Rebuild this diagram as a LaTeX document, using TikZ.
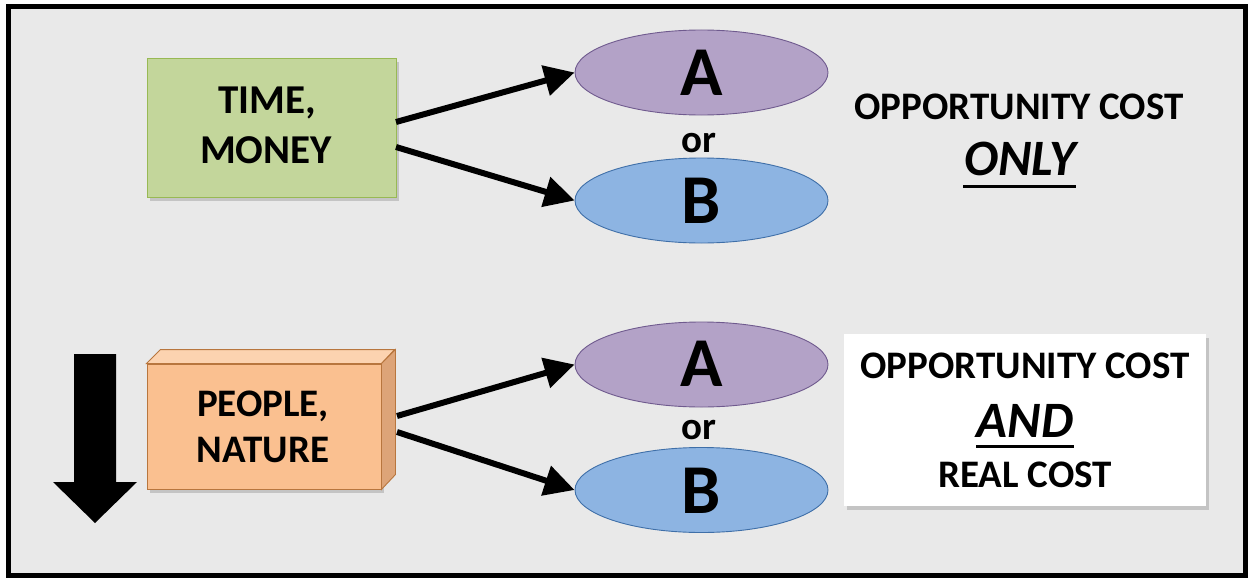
\documentclass[tikz,border=0pt]{standalone}
\usepackage{fontspec}
\setmainfont{Carlito}
\usetikzlibrary{shapes.geometric,arrows.meta,shadows}
\definecolor{bgc}{HTML}{E9E9E9}
\definecolor{grf}{HTML}{C3D69B}
\definecolor{grd}{HTML}{98B954}
\definecolor{puf}{HTML}{B3A2C7}
\definecolor{pud}{HTML}{6F5A8E}
\definecolor{blf}{HTML}{8DB4E2}
\definecolor{bld}{HTML}{3F6FA8}
\definecolor{orf}{HTML}{FAC090}
\definecolor{ort}{HTML}{FCD3B0}
\definecolor{ors}{HTML}{DDA478}
\definecolor{ord}{HTML}{B8763E}
\tikzset{
  x=1pt,y=-1pt,
  shad/.style={drop shadow={opacity=0.35,shadow xshift=3pt,shadow yshift=-4pt}},
  txt/.style={font=\fontsize{39}{44}\selectfont\bfseries,inner sep=0pt,anchor=base},
  txtb/.style={font=\fontsize{41}{46}\selectfont\bfseries,inner sep=0pt,anchor=base},
  big/.style={font=\fontsize{70}{74}\selectfont\bfseries,inner sep=0pt,anchor=base},
  emph/.style={font=\fontsize{51}{56}\selectfont\bfseries\itshape,inner sep=0pt,anchor=base},
  ell/.style={ellipse,minimum width=253pt,minimum height=85pt,inner sep=0pt,line width=0.9pt},
  conn/.style={line width=6pt,-{Triangle[length=30pt,width=30pt]}},
}
\begin{document}
\begin{tikzpicture}
\useasboundingbox (0,0) rectangle (1249,578);
\fill[white] (0,0) rectangle (1249,578);
\draw[line width=5pt,fill=bgc] (8.5,6.5) rectangle (1245,575.5);

% top row
\node[shad,draw=grd,fill=grf,line width=0.9pt,minimum width=249pt,minimum height=139pt,inner sep=0pt] (gm) at (271.5,127.5) {};
\node[txtb] (t1) at (267,113) {TIME,};
\node[txtb] (t2) at (266,163) {MONEY};

\node[ell,draw=pud,fill=puf] (a1) at (701.5,72.5) {};
\node[big] at (701.5,95) {A};
\node[ell,draw=bld,fill=blf] (b1) at (701.5,200.5) {};
\node[big] at (701.5,223) {B};
\node[txt] (or1) at (699,152) {or};

\coordinate (s1) at (396,122);
\coordinate (s2) at (396,147);
\draw[conn] (s1) -- (a1.west);
\draw[conn] (s2) -- (b1.west);

\node[txt] (oc1) at (1019,119) {OPPORTUNITY COST};
\node[emph] (only) at (1020,175) {ONLY};
\draw[line width=3pt] (963,186) -- (1076,186);

% bottom row
\fill[black] (74,354) -- (116,354) -- (116,482) -- (137,482) -- (95,523) -- (53,482) -- (74,482) -- cycle;

\node[shad,draw=ord,fill=orf,line width=0.9pt,minimum width=234pt,minimum height=125pt,inner sep=0pt] (pn) at (264,426.5) {};
\filldraw[draw=ord,fill=ort,line width=0.9pt] (pn.north west) -- ++(14,-14) -- ++(234,0) -- (pn.north east) -- cycle;
\filldraw[draw=ord,fill=ors,line width=0.9pt] (pn.north east) -- ++(14,-14) -- ++(0,125) -- (pn.south east) -- cycle;
\node[txt] (p1) at (263,416) {PEOPLE,};
\node[txt] (p2) at (263,462) {NATURE};

\node[ell,draw=pud,fill=puf] (a2) at (701.5,364.5) {};
\node[big] at (701.5,386) {A};
\node[ell,draw=bld,fill=blf] (b2) at (701.5,490) {};
\node[big] at (701.5,513) {B};
\node[txt] (or2) at (699,439) {or};

\coordinate (s3) at (397,416);
\coordinate (s4) at (397,432);
\draw[conn] (s3) -- (a2.west);
\draw[conn] (s4) -- (b2.west);

\node[shad,fill=white,minimum width=362pt,minimum height=172pt,inner sep=0pt] (wb) at (1025,420) {};
\node[txt] (oc2) at (1025,378) {OPPORTUNITY COST};
\node[emph] (and) at (1025,437) {AND};
\draw[line width=3pt] (976,446) -- (1074,446);
\node[txt] (rc) at (1025,487) {REAL COST};
\end{tikzpicture}
\end{document}
